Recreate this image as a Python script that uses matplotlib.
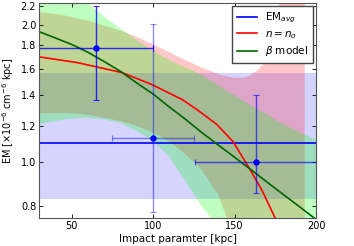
import matplotlib
matplotlib.use('Agg')
import matplotlib.pyplot as plt
import numpy as np

# data points (impact parameter, EM) with errors
pt_x = [65, 100, 163]
pt_xerr = [35, 25, 37]
pt_y = [1.78, 1.13, 1.00]
pt_ylo = [1.37, 0.777, 0.855]
pt_yhi = [2.20, 2.01, 1.40]
pt_alpha = [0.8, 0.45, 0.65]

# average EM and its band
em_avg = 1.1
em_lo, em_hi = 0.83, 1.57

# n = n_o model
red_x = [30, 54, 81, 99, 118, 128, 139, 149, 159, 167, 175, 180]
red_y = [1.70, 1.65, 1.57, 1.48, 1.37, 1.295, 1.21, 1.11, 0.97, 0.865, 0.753, 0.70]
redb_x = [30, 40, 50, 60, 70, 80, 90, 100, 110, 120, 130, 137, 140, 142, 146, 150, 155, 160, 165,
          168, 171, 174, 176, 178, 180, 193]
redb_hi = [2.13, 2.11, 2.08, 2.04, 1.99, 1.94, 1.88, 1.81, 1.74, 1.67, 1.61, 1.575, 1.56, 1.55, 1.54,
           1.53, 1.53, 1.55, 1.60, 1.65, 1.73, 1.85, 2.00, 2.30, 2.50, 2.50]
redb_lo = [1.28, 1.28, 1.28, 1.27, 1.25, 1.23, 1.20, 1.16, 1.11, 1.04, 0.96, 0.88, 0.85, 0.81, 0.745,
           0.70, 0.70, 0.70, 0.70, 0.70, 0.70, 0.70, 0.70, 0.70, 0.70, 0.70]

# beta model
grn_x = [30, 40, 50, 60, 70, 80, 90, 100, 110, 120, 130, 140, 150, 160, 170, 180, 190, 200]
grn_y = [1.93, 1.87, 1.81, 1.74, 1.66, 1.58, 1.49, 1.41, 1.32, 1.24, 1.16, 1.09, 1.025, 0.963,
         0.904, 0.849, 0.798, 0.749]
grnb_x = [30, 45, 57, 60, 70, 80, 90, 97, 100, 105, 110, 112, 118, 120, 124, 127, 130, 135, 137,
          140, 150, 160, 170, 180, 190, 200]
grnb_hi = [2.60, 2.40, 2.26, 2.23, 2.08, 1.96, 1.85, 1.78, 1.75, 1.71, 1.67, 1.66, 1.62, 1.61, 1.59,
           1.57, 1.55, 1.51, 1.50, 1.47, 1.40, 1.33, 1.27, 1.21, 1.16, 1.12]
grnb_lo = [1.21, 1.24, 1.25, 1.25, 1.24, 1.22, 1.17, 1.13, 1.11, 1.07, 1.03, 1.00, 0.93, 0.91, 0.86,
           0.83, 0.80, 0.76, 0.745, 0.70, 0.70, 0.70, 0.70, 0.70, 0.70, 0.70]

yticks = [0.8, 1.0, 1.2, 1.4, 1.6, 1.8, 2.0, 2.2]

fig = plt.figure(figsize=(3.54, 2.46), dpi=100)
ax = fig.add_axes([0.110, 0.114, 0.783, 0.874])

ax.fill_between([30, 200], em_lo, em_hi, color='b', alpha=0.17, lw=0)
ax.fill_between(redb_x, redb_lo, redb_hi, color='r', alpha=0.22, lw=0)
ax.fill_between(grnb_x, grnb_lo, grnb_hi, color='#00ff00', alpha=0.25, lw=0)

ax.axhline(em_avg, color='b', lw=1.2, label=r'EM$_{avg}$')
ax.plot(red_x, red_y, color='r', lw=1.2, label=r'$n=n_o$')
ax.plot(grn_x, grn_y, color='#006400', lw=1.2, label=r'$\beta$ model')

for i in range(len(pt_x)):
    ax.errorbar(pt_x[i], pt_y[i], xerr=pt_xerr[i],
                yerr=[[pt_y[i] - pt_ylo[i]], [pt_yhi[i] - pt_y[i]]],
                fmt='o', color='b', ms=3.5, capsize=2, lw=1, alpha=pt_alpha[i], mew=0.8)
    ax.plot(pt_x[i], pt_y[i], 'o', color='b', ms=3.5)

ax.set_yscale('log')
ax.set_xlim(30, 200)
ax.set_ylim(0.755, 2.23)
ax.set_yticks(yticks)
ax.set_yticklabels(['%.1f' % t for t in yticks])
ax.yaxis.set_minor_locator(matplotlib.ticker.NullLocator())
ax.set_xticks([50, 100, 150, 200])
ax.tick_params(direction='in', top=True, right=True, labelsize=7, length=3, width=0.6, pad=2)
for s in ax.spines.values():
    s.set_linewidth(0.8)
    s.set_color('#555555')

ax.set_xlabel('Impact paramter [kpc]', fontsize=7.5, labelpad=2)
ax.set_ylabel(r'EM [$\times10^{-6}$ cm$^{-6}$ kpc]', fontsize=7, labelpad=3.5)

leg = ax.legend(loc='upper right', fontsize=7.5, handlelength=1.9, borderpad=0.45,
                labelspacing=0.35, fancybox=False, framealpha=1, borderaxespad=0.3)
leg.get_frame().set_edgecolor('#444444')

fig.savefig('out.png', dpi=100)
